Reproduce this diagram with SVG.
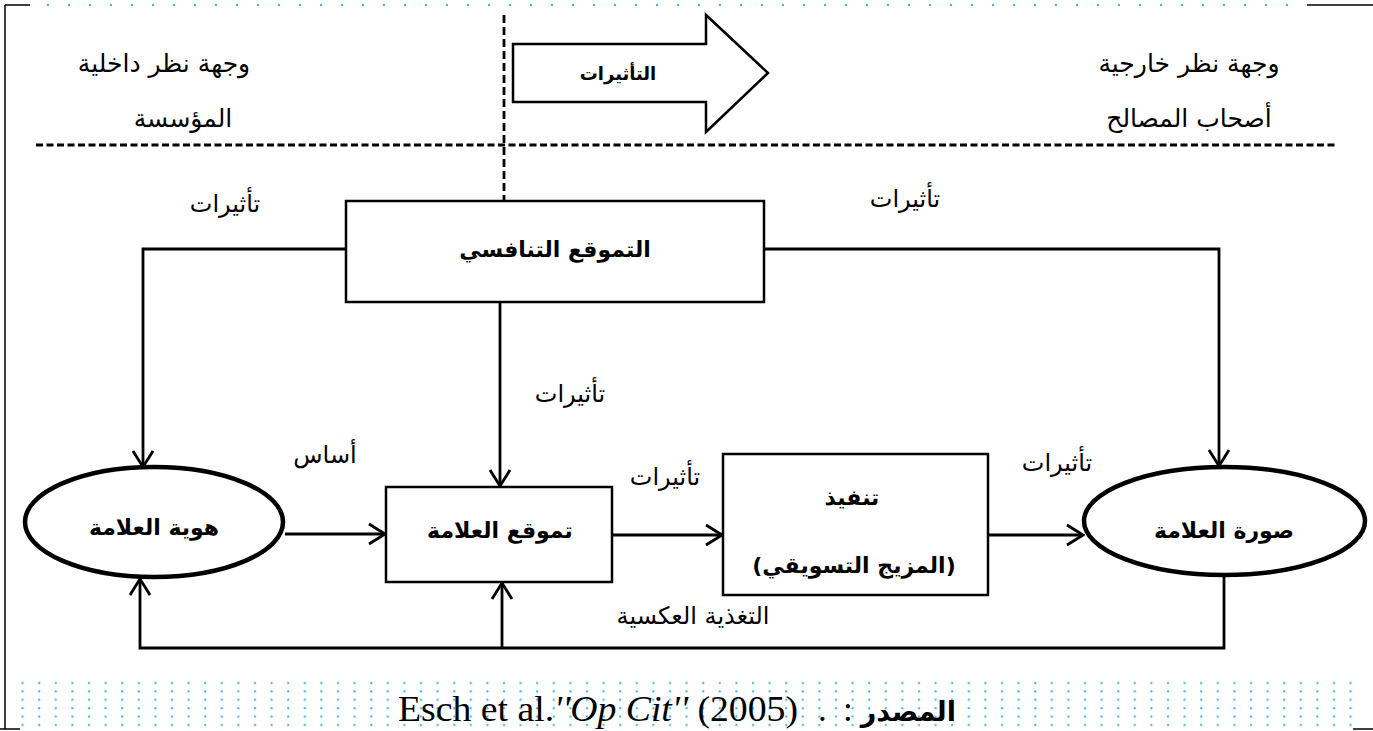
<svg xmlns="http://www.w3.org/2000/svg" width="1373" height="731" viewBox="0 0 1373 731">
  <defs>
    <style>
      .ar { font-family: "DejaVu Sans", sans-serif; fill: #000; text-anchor: middle; }
      .lbl { font-size: 24px; }
      .side { font-size: 25px; }
      .head { font-size: 22px; font-weight: bold; }
      .box { fill: #fff; stroke: #000; stroke-width: 2.5; }
      .ell { fill: #fff; stroke: #000; stroke-width: 4.5; }
      .con { fill: none; stroke: #000; stroke-width: 2.8; }
      .frame { fill: none; stroke: #000; stroke-width: 1.5; }
      .dash { fill: none; stroke: #000; stroke-width: 2.8; }
      .src { font-family: "Liberation Serif", serif; font-size: 35px; fill: #000; }
    </style>
    <marker id="open" viewBox="0 0 20 24" refX="18" refY="12" markerWidth="20" markerHeight="24" markerUnits="userSpaceOnUse" orient="auto">
      <path d="M2,2 L18,12 L2,22" fill="none" stroke="#000" stroke-width="2.8"/>
    </marker>
    <pattern id="dotsTop" x="0" y="0" width="21" height="10" patternUnits="userSpaceOnUse">
      <circle cx="6" cy="5" r="1.2" fill="#3cb4e6"/>
    </pattern>
    <pattern id="dotsBottom" x="0" y="679" width="16.6" height="8.4" patternUnits="userSpaceOnUse">
      <circle cx="6" cy="4" r="1.1" fill="#3cb4e6"/>
    </pattern>
  </defs>

  <rect width="1373" height="731" fill="#fff"/>

  <!-- page frame and dotted bands -->
  <g id="frame">
    <rect x="40" y="0" width="1265" height="10" fill="url(#dotsTop)"/>
    <rect x="15" y="679" width="1350" height="52" fill="url(#dotsBottom)"/>
    <path class="frame" d="M5,5 H30 M5,5 V729 M0,729 H20 M1307,5 H1373 M1353,729 H1373"/>
  </g>

  <!-- perspective separators -->
  <g id="separators">
    <line class="dash" x1="504" y1="15" x2="504" y2="201" stroke-dasharray="8,4"/>
    <line class="dash" x1="36" y1="145" x2="1338" y2="145" stroke-dasharray="7,3.5"/>
  </g>

  <g id="inner-view">
    <text class="ar side" x="164" y="72">وجهة نظر داخلية</text>
    <text class="ar side" x="183" y="127">المؤسسة</text>
  </g>
  <g id="outer-view">
    <text class="ar side" x="1189" y="72">وجهة نظر خارجية</text>
    <text class="ar side" x="1189" y="127">أصحاب المصالح</text>
  </g>

  <g id="influence-arrow">
    <path d="M513,44 H706 V15 L768,73 L706,132 V102 H513 Z" fill="#fff" stroke="#000" stroke-width="2.5" stroke-linejoin="miter"/>
    <text class="ar head" x="618" y="80" style="font-size:18px">التأثيرات</text>
  </g>

  <!-- connectors -->
  <g id="connectors">
    <path class="con" d="M346,249 H143 V467" marker-end="url(#open)"/>
    <path class="con" d="M764,249 H1219 V466" marker-end="url(#open)"/>
    <path class="con" d="M500,302 V486" marker-end="url(#open)"/>
    <path class="con" d="M285,534 H385" marker-end="url(#open)"/>
    <path class="con" d="M613,535 H722" marker-end="url(#open)"/>
    <path class="con" d="M989,535 H1083" marker-end="url(#open)"/>
    <path class="con" d="M1224,576 V648 H140 V579" marker-end="url(#open)"/>
    <path class="con" d="M502,648 V583" marker-end="url(#open)"/>
  </g>

  <g id="connector-labels">
    <text class="ar lbl" x="225" y="212">تأثيرات</text>
    <text class="ar lbl" x="905" y="207">تأثيرات</text>
    <text class="ar lbl" x="570" y="402">تأثيرات</text>
    <text class="ar lbl" x="325" y="463">أساس</text>
    <text class="ar lbl" x="665" y="485">تأثيرات</text>
    <text class="ar lbl" x="1057" y="471">تأثيرات</text>
    <text class="ar lbl" x="693" y="624">التغذية العكسية</text>
  </g>

  <g id="competitive-positioning">
    <rect class="box" x="346" y="201" width="418" height="101"/>
    <text class="ar head" x="555" y="257">التموقع التنافسي</text>
  </g>

  <g id="brand-identity">
    <ellipse class="ell" cx="154" cy="522" rx="129" ry="55"/>
    <text class="ar head" x="154" y="535">هوية العلامة</text>
  </g>

  <g id="brand-positioning">
    <rect class="box" x="386" y="487" width="226" height="95"/>
    <text class="ar head" x="500" y="538">تموقع العلامة</text>
  </g>

  <g id="execution">
    <rect class="box" x="723" y="454" width="265" height="141"/>
    <text class="ar head" x="852" y="505">تنفيذ</text>
    <text class="ar head" x="854" y="573">(المزيج التسويقي)</text>
  </g>

  <g id="brand-image">
    <ellipse class="ell" cx="1224.5" cy="521" rx="140.5" ry="54"/>
    <text class="ar head" x="1224" y="538">صورة العلامة</text>
  </g>

  <g id="source">
    <text class="src" x="398" y="721" textLength="400" lengthAdjust="spacingAndGlyphs">Esch et al.<tspan font-family="Liberation Serif, serif" font-style="italic">''Op Cit''</tspan> (2005)</text>
    <text class="src" x="818" y="721">.</text>
    <text class="src" x="843" y="721">:</text>
    <text x="956" y="721" font-family="DejaVu Sans, sans-serif" font-weight="bold" font-size="27" text-anchor="end">المصدر</text>
  </g>
</svg>
